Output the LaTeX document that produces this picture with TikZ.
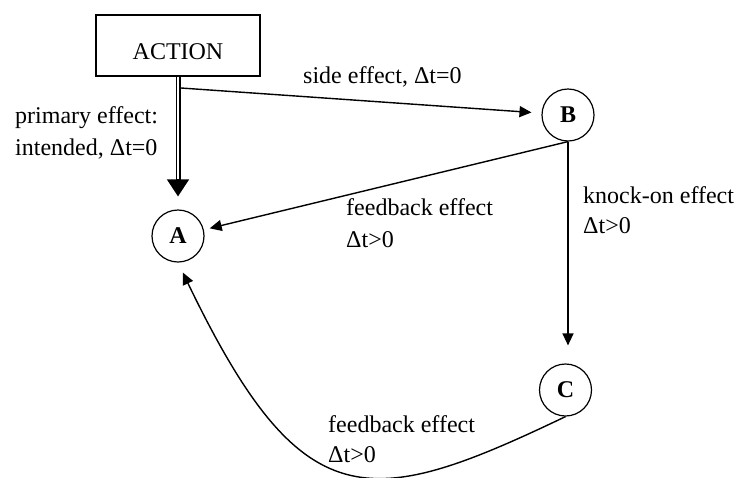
\documentclass[tikz,border=0pt]{standalone}
\usepackage{fontspec}
\setmainfont{Liberation Serif}
\usetikzlibrary{arrows.meta}

\begin{document}
\begin{tikzpicture}[x=1pt,y=-1pt,
  every node/.style={font=\fontsize{24}{30}\selectfont},
  state/.style={draw, circle, line width=1.2pt, minimum size=52pt, inner sep=0pt,
                font=\fontsize{24}{30}\selectfont\bfseries},
  actbox/.style={draw, line width=1.2pt, minimum width=164pt, minimum height=61pt,
                 inner sep=0pt, text height=27pt, text depth=0pt},
  lbl/.style={anchor=base west, inner sep=0pt},
  conn/.style={line width=1.4pt, -{Triangle[length=12pt,width=11pt]}},
  dbl/.style={line width=1.2pt, double distance=2.6pt},
]
\useasboundingbox (0,0) rectangle (739,477);

% states
\node[actbox] (act) at (178,45.5) {ACTION};
\node[state] (A) at (178,236) {A};
\node[state] (B) at (568,115) {B};
\node[state] (C) at (565.5,390) {C};
\coordinate (s) at (181,88);

% side effect
\draw[conn, shorten >=10pt] (s) -- (B);

% primary effect (double arrow)
\draw[dbl] (act.south) -- ([yshift=28pt]A.north);
\draw[line width=1.2pt, -{Triangle[length=17pt,width=22pt]}]
  ([yshift=30pt]A.north) -- ([yshift=13pt]A.north);

% feedback and knock-on effects
\draw[conn, shorten >=6pt] (B.south) -- (A);
\draw[conn, shorten >=18pt] (B.south) -- (B.south |- C.north);
\draw[conn, shorten >=11pt] (C.south) .. controls (368,511) and (302,520) .. (A.south);

% labels
\node[lbl] (l1a) at (15,123) {primary effect:};
\node[lbl] (l1b) at (15,155) {intended, Δt=0};
\node[lbl] (l2)  at (303,83) {side effect, Δt=0};
\node[lbl] (l3a) at (346,215) {feedback effect};
\node[lbl] (l3b) at (346,247) {Δt>0};
\node[lbl] (l4a) at (583,203) {knock-on effect};
\node[lbl] (l4b) at (583,233) {Δt>0};
\node[lbl] (l5a) at (328,432) {feedback effect};
\node[lbl] (l5b) at (328,462) {Δt>0};
\end{tikzpicture}
\end{document}
